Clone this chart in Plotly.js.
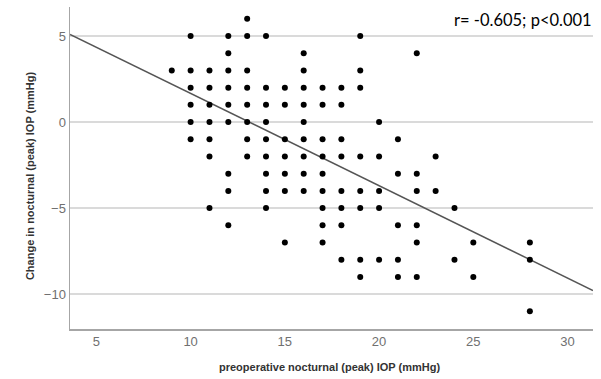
<!DOCTYPE html>
<html>
<head>
<meta charset="utf-8">
<script src="https://cdn.plot.ly/plotly-3.0.1.min.js"></script>
<style>
  html, body { margin: 0; padding: 0; background: #ffffff; }
  #chart { width: 601px; height: 379px; }
</style>
</head>
<body>
<div id="chart"></div>
<script>
// Preoperative nocturnal peak IOP (mmHg) per eye, grouped by value
const preopIOP = [
  9,
  10, 10, 10, 10, 10, 10,
  11, 11, 11, 11, 11, 11, 11,
  12, 12, 12, 12, 12, 12, 12, 12, 12,
  13, 13, 13, 13, 13, 13, 13, 13,
  14, 14, 14, 14, 14, 14, 14, 14, 14,
  15, 15, 15, 15, 15, 15, 15,
  16, 16, 16, 16, 16, 16, 16, 16, 16,
  17, 17, 17, 17, 17, 17, 17, 17, 17,
  18, 18, 18, 18, 18, 18, 18, 18,
  19, 19, 19, 19, 19, 19, 19, 19,
  20, 20, 20, 20, 20,
  21, 21, 21, 21, 21,
  22, 22, 22, 22, 22, 22,
  23, 23,
  24, 24,
  25, 25,
  28, 28, 28
];

// Change in nocturnal peak IOP (mmHg), same order as preopIOP
const changeIOP = [
  3,
  5, 3, 2, 1, 0, -1,
  3, 2, 1, 0, -1, -2, -5,
  5, 4, 3, 2, 1, 0, -3, -4, -6,
  6, 5, 3, 2, 1, 0, -1, -2,
  5, 2, 1, 0, -1, -2, -3, -4, -5,
  2, 1, -1, -2, -3, -4, -7,
  4, 3, 2, 1, 0, -1, -2, -3, -4,
  2, 1, -1, -2, -3, -4, -5, -6, -7,
  2, 1, -1, -2, -4, -5, -6, -8,
  5, 3, 2, -2, -4, -5, -8, -9,
  0, -2, -4, -5, -8,
  -1, -3, -6, -8, -9,
  4, -3, -4, -6, -7, -9,
  -2, -4,
  -5, -8,
  -7, -9,
  -7, -8, -11
];

const statText = 'r= -0.605; p<0.001';
const xTitle = 'preoperative nocturnal (peak) IOP (mmHg)';
const yTitle = 'Change in nocturnal (peak) IOP (mmHg)';

const xRange = [3.6, 31.35];
const yRange = [-12.03, 6.69];

// Ordinary least-squares fit of change vs. preoperative IOP
function linearFit(xs, ys) {
  const n = xs.length;
  const mx = xs.reduce((a, b) => a + b, 0) / n;
  const my = ys.reduce((a, b) => a + b, 0) / n;
  let sxy = 0, sxx = 0;
  for (let i = 0; i < n; i++) {
    sxy += (xs[i] - mx) * (ys[i] - my);
    sxx += (xs[i] - mx) * (xs[i] - mx);
  }
  const slope = sxy / sxx;
  return { slope: slope, intercept: my - slope * mx };
}

const fit = linearFit(preopIOP, changeIOP);
const fitX = xRange.slice();
const fitY = fitX.map(x => fit.intercept + fit.slope * x);

const traces = [
  {
    type: 'scatter',
    mode: 'lines',
    x: fitX,
    y: fitY,
    line: { color: '#555555', width: 1.5 },
    hoverinfo: 'skip',
    cliponaxis: true
  },
  {
    type: 'scatter',
    mode: 'markers',
    x: preopIOP,
    y: changeIOP,
    marker: { color: '#000000', size: 6, line: { width: 0 } }
  }
];

const axisFont = { family: 'Liberation Sans, Arial, sans-serif', size: 13, color: '#707070' };
const titleFont = { family: 'Liberation Sans, Arial, sans-serif', size: 11, color: '#333333', weight: 'bold' };

const layout = {
  width: 601,
  height: 379,
  margin: { l: 70, r: 8, t: 7, b: 50 },
  paper_bgcolor: '#ffffff',
  plot_bgcolor: '#ffffff',
  showlegend: false,
  xaxis: {
    range: xRange,
    tickmode: 'linear',
    tick0: 0,
    dtick: 5,
    showgrid: false,
    zeroline: false,
    showline: true,
    linecolor: '#a6a6a6',
    linewidth: 1.5,
    ticks: '',
    tickfont: axisFont
  },
  yaxis: {
    range: yRange,
    tickmode: 'linear',
    tick0: 0,
    dtick: 5,
    showgrid: true,
    gridcolor: '#dadada',
    gridwidth: 1.5,
    zeroline: false,
    showline: true,
    linecolor: '#a6a6a6',
    linewidth: 1.5,
    ticks: '',
    tickfont: axisFont
  },
  annotations: [
    {
      text: xTitle,
      xref: 'paper', yref: 'paper',
      x: 0.497, y: -0.118,
      xanchor: 'center', yanchor: 'middle',
      showarrow: false,
      font: titleFont
    },
    {
      text: yTitle,
      xref: 'paper', yref: 'paper',
      x: -0.0765, y: 0.478,
      xanchor: 'center', yanchor: 'middle',
      textangle: -90,
      showarrow: false,
      font: titleFont
    },
    {
      text: statText,
      xref: 'paper', yref: 'paper',
      x: 1.002, y: 0.96,
      xanchor: 'right', yanchor: 'middle',
      showarrow: false,
      font: { family: 'Lato, sans-serif', size: 16.5, color: '#000000' }
    }
  ]
};

Plotly.newPlot('chart', traces, layout, { displayModeBar: false, staticPlot: true });
</script>
</body>
</html>
